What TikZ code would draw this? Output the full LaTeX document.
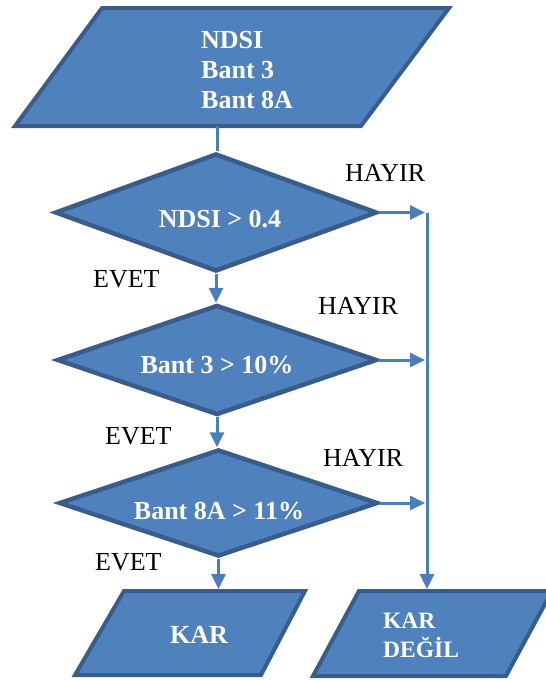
\documentclass[tikz,border=0pt]{standalone}
\usepackage{fontspec}
\setmainfont{Liberation Serif}
\usetikzlibrary{shapes.geometric,arrows.meta}
\definecolor{boxfill}{HTML}{4F81BD}
\definecolor{boxedge}{HTML}{385D8A}
\definecolor{conncol}{HTML}{4A7EBB}
\begin{document}
\begin{tikzpicture}[x=1pt,y=-1pt,
  dec/.style={diamond, draw=boxedge, fill=boxfill, line width=4.5pt, inner sep=0pt},
  pbox/.style={draw=boxedge, fill=boxfill, line width=4pt, line join=miter},
  btxt/.style={text=white, font=\fontsize{26}{30}\selectfont\bfseries, inner sep=0pt},
  lbl/.style={text=black, font=\fontsize{26}{30}\selectfont, inner sep=0pt},
  conn/.style={draw=conncol, line width=3pt},
  arr/.style={conn, -{Triangle[length=15pt,width=14pt]}}]
\useasboundingbox (0,0) rectangle (546,680);

% input parallelogram
\draw[pbox] (102,8) -- (449,8) -- (361,126) -- (15,126) -- cycle;
\node[btxt, anchor=west, align=left] (inp) at (201,70) {NDSI\\Bant 3\\Bant 8A};
\coordinate (inpbot) at (217,126);

% decisions
\node[dec, minimum width=322pt, minimum height=118pt] (d1) at (216,212.5) {};
\node[btxt, anchor=base] (t1) at (220,227) {NDSI > 0.4};
\node[dec, minimum width=320pt, minimum height=110pt] (d2) at (217,360) {};
\node[btxt, anchor=base] (t2) at (217,373) {Bant 3 > 10\%};
\node[dec, minimum width=319pt, minimum height=107pt] (d3) at (218.5,503) {};
\node[btxt, anchor=base] (t3) at (219,519) {Bant 8A > 11\%};

% outputs
\draw[pbox] (124,591) -- (305,591) -- (261,675) -- (75,675) -- cycle;
\node[btxt, anchor=base] (kar) at (199,643) {KAR};
\coordinate (kartop) at (219,589);
\draw[pbox] (359,591) -- (552,591) -- (506,676) -- (313,676) -- cycle;
\node[btxt, font=\fontsize{23.5}{29}\selectfont\bfseries, anchor=west, align=left] (kd) at (383,635) {KAR\\DEĞİL};

% connectors
\coordinate (bustop) at (427,212.5);
\coordinate (busbot) at (427,589);
\coordinate (busx) at (425,0);
\draw[conn] (inpbot) -- (inpbot |- d1.north);
\draw[arr] (d1.south) -- (d1.south |- d2.north);
\draw[arr] (d2.south) -- (d2.south |- d3.north);
\draw[arr] (d3.south) -- (d3.south |- kartop);
\draw[arr] (d1.east) -- (d1.east -| busx);
\draw[arr] (d2.east) -- (d2.east -| busx);
\draw[arr] (d3.east) -- (d3.east -| busx);
\draw[arr] (bustop) -- (busbot);

% labels
\node[lbl, anchor=base west] (h1) at (345,181) {HAYIR};
\node[lbl, anchor=base west] (h2) at (318,314) {HAYIR};
\node[lbl, anchor=base west] (h3) at (323,466) {HAYIR};
\node[lbl, anchor=base west] (e1) at (93,287) {EVET};
\node[lbl, anchor=base west] (e2) at (105,444) {EVET};
\node[lbl, anchor=base west] (e3) at (95,570) {EVET};
\end{tikzpicture}
\end{document}
